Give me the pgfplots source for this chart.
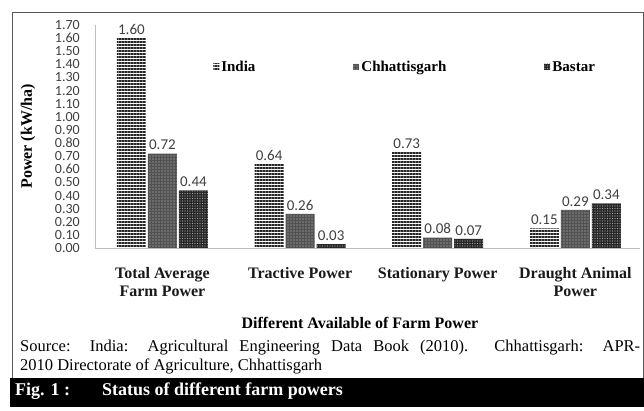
\documentclass[border=0pt]{standalone}
\usepackage{pgfplots}
\pgfplotsset{compat=1.18}
\usepackage{fontspec}
\setmainfont{Liberation Serif}
\newfontfamily\carlito{Carlito}
\usetikzlibrary{patterns,patterns.meta}
\definecolor{axgray}{HTML}{BFBFBF}
\definecolor{lblgray}{HTML}{404040}
\begin{document}
\begin{tikzpicture}[x=1pt,y=1pt]
\useasboundingbox (0,0) rectangle (644,411);
\fill[white] (0,0) rectangle (644,411);
\draw[black!65, line width=0.8pt] (12,33) -- (12,399) -- (643,399) -- (643,33);
\begin{axis}[
  at={(95pt,163pt)}, anchor=south west,
  scale only axis, width=545pt, height=223pt,
  ybar=2pt, bar width=29pt,
  xmin=-0.49, xmax=3.47, ymin=0, ymax=1.7,
  axis lines*=left,
  axis line style={axgray, line width=0.8pt},
  major tick length=0pt,
  ytick={0,0.1,0.2,0.3,0.4,0.5,0.6,0.7,0.8,0.9,1.0,1.1,1.2,1.3,1.4,1.5,1.6,1.7},
  xtick={0,1,2,3},
  xticklabels={{Total Average\\Farm Power},{Tractive Power},{Stationary Power},{Draught Animal\\Power}},
  scaled y ticks=false,
  /pgf/number format/fixed,
  /pgf/number format/fixed zerofill,
  /pgf/number format/precision=2,
  /pgf/number format/assume math mode=true,
  yticklabel style={font=\carlito\fontsize{14}{14}\selectfont, text=lblgray, inner sep=0pt, xshift=-15pt},
  xticklabel style={font=\bfseries\fontsize{16}{18}\selectfont, align=center, text=black!90, yshift=-16pt},
  ylabel={Power (kW/ha)},
  ylabel style={at={(axis description cs:-0.123,0.5)}, anchor=center, font=\bfseries\fontsize{16}{18}\selectfont},
  xlabel={Different Available of Farm Power},
  xlabel style={at={(axis description cs:0.486,-0.336)}, anchor=center, font=\bfseries\fontsize{16}{18}\selectfont},
  nodes near coords,
  every node near coord/.append style={font=\carlito\fontsize{15}{15}\selectfont, text=lblgray},
  legend style={at={(axis description cs:0.569,0.812)}, anchor=center, draw=none, fill=none,
    font=\bfseries\fontsize{15}{16}\selectfont, legend columns=3,
    /tikz/every even column/.append style={column sep=96pt}},
  legend image code/.code={\path[#1] (0pt,-3pt) rectangle (6pt,3pt);},
]
\addplot[draw=none, fill=white, postaction={pattern={Lines[angle=0,distance=3pt,line width=1.5pt]}, pattern color=black!85}]
  coordinates {(0,1.60) (1,0.64) (2,0.73) (3,0.15)};
\addplot[draw=none, fill=black!68, postaction={pattern={Dots[distance=3pt,radius=0.7pt]}, pattern color=gray!45}]
  coordinates {(0,0.72) (1,0.26) (2,0.08) (3,0.29)};
\addplot[draw=none, fill=black!85, postaction={pattern={Dots[distance=2.5pt,radius=0.6pt]}, pattern color=gray!70}]
  coordinates {(0,0.44) (1,0.03) (2,0.07) (3,0.34)};
\legend{India,Chhattisgarh,Bastar}
\end{axis}
\node[anchor=base west, inner sep=0pt, font=\fontsize{16.5}{18}\selectfont] at (20,59)
  {\makebox[620pt][s]{Source: India: Agricultural Engineering Data Book (2010). Chhattisgarh: APR-}};
\node[anchor=base west, inner sep=0pt, font=\fontsize{16.5}{18}\selectfont] at (20,40)
  {2010 Directorate of Agriculture, Chhattisgarh};
\fill[black] (10,4) rectangle (644,33);
\node[anchor=base west, inner sep=0pt, text=white, font=\bfseries\fontsize{18}{18}\selectfont] at (15,15) {Fig. 1 :};
\node[anchor=base west, inner sep=0pt, text=white, font=\bfseries\fontsize{18}{18}\selectfont] at (102,15) {Status of different farm powers};
\end{tikzpicture}
\end{document}
